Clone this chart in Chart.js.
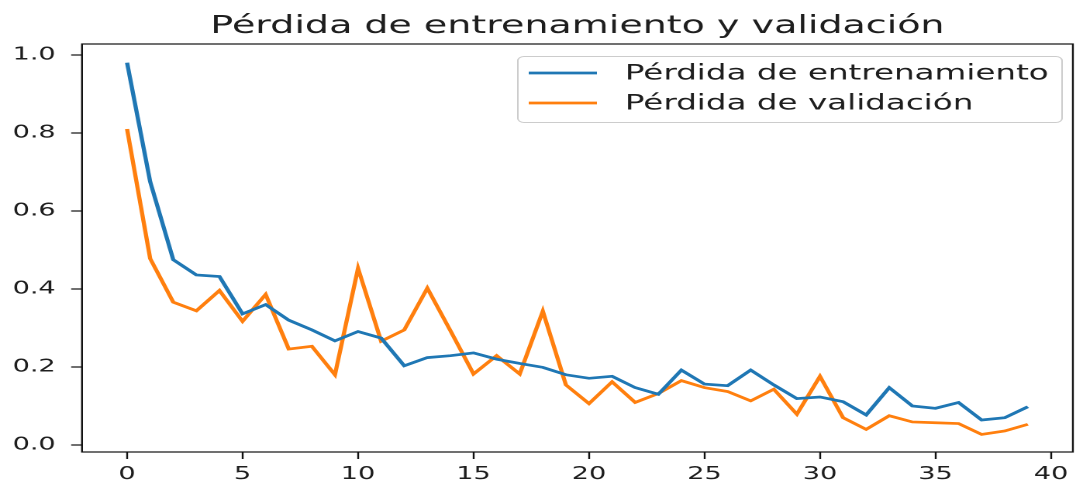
<!DOCTYPE html>
<html>
<head>
<meta charset="utf-8">
<script src="https://cdn.jsdelivr.net/npm/chart.js@4"></script>
<style>
  html, body { margin: 0; padding: 0; background: #fff; overflow: hidden; }
  /* la figura original está estirada en horizontal */
  #lossChart { display: block; width: 1076px !important; height: 481px !important; }
</style>
</head>
<body>
<canvas id="lossChart" width="694" height="481"></canvas>
<script>
// Datos
const epochs = [0, 1, 2, 3, 4, 5, 6, 7, 8, 9, 10, 11, 12, 13, 14, 15, 16, 17, 18, 19,
                20, 21, 22, 23, 24, 25, 26, 27, 28, 29, 30, 31, 32, 33, 34, 35, 36, 37, 38, 39];
const trainLoss = [0.98, 0.675, 0.475, 0.436, 0.432, 0.336, 0.36, 0.32, 0.295, 0.267,
                   0.291, 0.274, 0.203, 0.224, 0.229, 0.236, 0.22, 0.209, 0.199, 0.18,
                   0.171, 0.176, 0.147, 0.13, 0.192, 0.156, 0.152, 0.192, 0.154, 0.119,
                   0.123, 0.111, 0.077, 0.147, 0.1, 0.094, 0.109, 0.064, 0.07, 0.098];
const valLoss = [0.81, 0.478, 0.366, 0.344, 0.396, 0.317, 0.386, 0.246, 0.253, 0.18,
                 0.453, 0.266, 0.295, 0.402, 0.293, 0.182, 0.229, 0.182, 0.343, 0.154,
                 0.106, 0.162, 0.109, 0.132, 0.165, 0.147, 0.137, 0.113, 0.143, 0.079,
                 0.176, 0.07, 0.04, 0.075, 0.059, 0.057, 0.055, 0.027, 0.036, 0.053];
const xTicks = [0, 5, 10, 15, 20, 25, 30, 35, 40];
const yTicks = [0.0, 0.2, 0.4, 0.6, 0.8, 1.0];
const seriesNames = ['Pérdida de entrenamiento', 'Pérdida de validación'];
const chartTitle = 'Pérdida de entrenamiento y validación';

const FONT = '"DejaVu Sans", "Liberation Sans", sans-serif';
const TEXT_COLOR = '#1e1e1e';

// Título, marco y leyenda al estilo matplotlib
const mplDecor = {
    id: 'mplDecor',
    afterDraw(chart) {
        const ctx = chart.ctx;
        const a = chart.chartArea;
        ctx.save();

        // marco (spines)
        ctx.strokeStyle = '#111';
        ctx.lineWidth = 1.2;
        ctx.strokeRect(a.left, a.top, a.right - a.left, a.bottom - a.top);

        // título
        ctx.fillStyle = TEXT_COLOR;
        ctx.font = '24.5px ' + FONT;
        ctx.textAlign = 'center';
        ctx.textBaseline = 'alphabetic';
        ctx.fillText(chartTitle, (a.left + a.right) / 2, 33);

        // leyenda
        const bx = 334, by = 56.5, bw = 351, bh = 66, r = 4;
        ctx.beginPath();
        ctx.roundRect(bx, by, bw, bh, r);
        ctx.fillStyle = 'rgba(255,255,255,0.8)';
        ctx.fill();
        ctx.strokeStyle = '#cccccc';
        ctx.lineWidth = 1;
        ctx.stroke();

        ctx.font = '21px ' + FONT;
        ctx.textAlign = 'left';
        ctx.textBaseline = 'middle';
        chart.data.datasets.forEach((ds, i) => {
            const y = 73 + i * 30;
            ctx.beginPath();
            ctx.moveTo(341, y);
            ctx.lineTo(385, y);
            ctx.strokeStyle = ds.borderColor;
            ctx.lineWidth = 2.7;
            ctx.stroke();
            ctx.fillStyle = TEXT_COLOR;
            ctx.fillText(ds.label, 403, y + 1);
        });
        ctx.restore();
    }
};

const ctx = document.getElementById('lossChart').getContext('2d');
new Chart(ctx, {
    type: 'line',
    data: {
        datasets: [
            {
                label: seriesNames[0],
                data: epochs.map((e, i) => ({ x: e, y: trainLoss[i] })),
                borderColor: '#1f77b4',
                borderWidth: 2.7,
                pointRadius: 0,
                tension: 0,
                fill: false
            },
            {
                label: seriesNames[1],
                data: epochs.map((e, i) => ({ x: e, y: valLoss[i] })),
                borderColor: '#ff7f0e',
                borderWidth: 2.7,
                pointRadius: 0,
                tension: 0,
                fill: false
            }
        ]
    },
    options: {
        responsive: false,
        animation: false,
        devicePixelRatio: 2,
        layout: { padding: { top: 44, right: 1.3, left: 0, bottom: 0 } },
        scales: {
            x: {
                type: 'linear',
                min: -1.95,
                max: 40.95,
                afterBuildTicks: axis => { axis.ticks = xTicks.map(v => ({ value: v })); },
                afterFit: axis => { axis.height = 29; },
                ticks: {
                    color: TEXT_COLOR,
                    font: { family: FONT, size: 17.5 },
                    padding: 5,
                    maxRotation: 0,
                    callback: v => String(v)
                },
                grid: {
                    drawOnChartArea: false,
                    drawTicks: true,
                    tickLength: 7,
                    tickWidth: 1.2,
                    tickColor: '#111'
                },
                border: { display: false }
            },
            y: {
                min: -0.018,
                max: 1.028,
                afterBuildTicks: axis => { axis.ticks = yTicks.map(v => ({ value: v })); },
                afterFit: axis => { axis.width = 52.9; },
                ticks: {
                    color: TEXT_COLOR,
                    font: { family: FONT, size: 17.5 },
                    padding: 10,
                    callback: v => Number(v).toFixed(1)
                },
                grid: {
                    drawOnChartArea: false,
                    drawTicks: true,
                    tickLength: 7,
                    tickWidth: 1.2,
                    tickColor: '#111'
                },
                border: { display: false }
            }
        },
        plugins: {
            legend: { display: false },
            title: { display: false },
            tooltip: { enabled: false }
        }
    },
    plugins: [mplDecor]
});
</script>
</body>
</html>
